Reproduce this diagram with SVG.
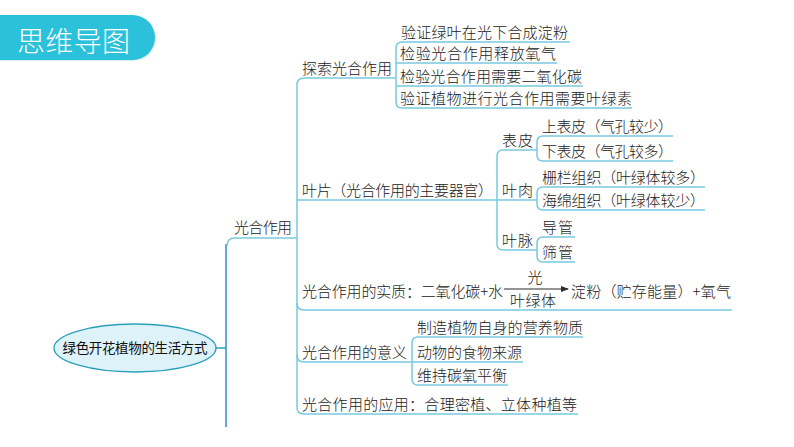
<svg xmlns="http://www.w3.org/2000/svg" width="794" height="447" viewBox="0 0 794 447">
<style>
.t{font-family:"Noto Sans CJK SC","Noto Sans CJK JP",sans-serif;font-size:15px;font-weight:300;fill:#222;}
.ln{fill:none;stroke:#78c9de;stroke-width:1.5;}
</style>
<defs>
<marker id="ah" markerWidth="8" markerHeight="6" refX="7" refY="3" orient="auto" markerUnits="userSpaceOnUse">
<path d="M0,0 L8,3 L0,6 Z" fill="#2a2a2a"/>
</marker>
</defs>
<rect width="794" height="447" fill="#ffffff"/>
<g id="title">
<path d="M0,16 H133.5 A22.5,22.5 0 0 1 133.5,61 H0 Z" fill="#d8eef3"/>
<path d="M0,15 H132.5 A22.5,22.5 0 0 1 132.5,60 H0 Z" fill="#2cc1da"/>
<text x="17" y="52" style="font-family:'Noto Sans CJK SC',sans-serif;font-size:28px;font-weight:300;fill:#ffffff" textLength="113">思维导图</text>
</g>
<g id="connectors">
<line x1="215" y1="348" x2="226" y2="348" stroke="#2aa0b8" stroke-width="1.5"/>
<line x1="226" y1="244" x2="226" y2="427" stroke="#2a8fc7" stroke-width="1.5"/>
<path class="ln" d="M227,246 Q227,238 235,238 H297"/>
<path class="ln" d="M396,78 H304 Q297,78 297,85 V407 Q297,414 304,414 H578"/>
<path class="ln" d="M297,200 H537"/>
<path class="ln" d="M297,303 Q297,310 304,310 H732"/>
<path class="ln" d="M297,355 Q297,362 304,362 H523"/>
<path class="ln" d="M570,42 H402 Q396,42 396,48 V102 Q396,108 402,108 H632"/>
<path class="ln" d="M396,63 H557"/>
<path class="ln" d="M396,86 H583"/>
<path class="ln" d="M537,150 H503 Q497,150 497,156 V244 Q497,250 503,250 H537"/>
<path class="ln" d="M673,136 H543 Q537,136 537,142 V155 Q537,161 543,161 H673"/>
<path class="ln" d="M705,187 H543 Q537,187 537,193 V204 Q537,210 543,210 H705"/>
<path class="ln" d="M575,237 H543 Q537,237 537,243 V256 Q537,262 543,262 H575"/>
<path class="ln" d="M583,337 H418 Q412,337 412,343 V379 Q412,385 418,385 H508"/>
</g>
<g id="root">
<ellipse cx="135" cy="348" rx="81" ry="24" fill="#def2fa" stroke="#2aa0b8" stroke-width="1.3"/>
<text x="135" y="353" text-anchor="middle" style="font-family:'Noto Sans CJK SC',sans-serif;font-size:13.5px;fill:#111" textLength="145">绿色开花植物的生活方式</text>
</g>
<g id="n-gh"><text class="t" x="234" y="233" textLength="58">光合作用</text></g>
<g id="n-ts"><text class="t" x="302" y="74" textLength="90">探索光合作用</text></g>
<g id="n-ts1"><text class="t" x="401" y="38" textLength="167">验证绿叶在光下合成淀粉</text></g>
<g id="n-ts2"><text class="t" x="400" y="59" textLength="156">检验光合作用释放氧气</text></g>
<g id="n-ts3"><text class="t" x="400" y="82" textLength="182">检验光合作用需要二氧化碳</text></g>
<g id="n-ts4"><text class="t" x="400" y="104" textLength="232">验证植物进行光合作用需要叶绿素</text></g>
<g id="n-yp"><text class="t" x="302" y="196" textLength="191">叶片（光合作用的主要器官）</text></g>
<g id="n-bp"><text class="t" x="502" y="146" textLength="31">表皮</text></g>
<g id="n-yr"><text class="t" x="502" y="196" textLength="31">叶肉</text></g>
<g id="n-ym"><text class="t" x="502" y="246" textLength="31">叶脉</text></g>
<g id="n-sbp"><text class="t" x="542" y="132" textLength="131">上表皮（气孔较少）</text></g>
<g id="n-xbp"><text class="t" x="542" y="157" textLength="131">下表皮（气孔较多）</text></g>
<g id="n-zl"><text class="t" x="542" y="183" textLength="163">栅栏组织（叶绿体较多）</text></g>
<g id="n-hm"><text class="t" x="542" y="206" textLength="163">海绵组织（叶绿体较少）</text></g>
<g id="n-dg"><text class="t" x="542" y="233" textLength="31">导管</text></g>
<g id="n-sg"><text class="t" x="542" y="258" textLength="31">筛管</text></g>
<g id="n-sz">
<text class="t" x="302" y="297" textLength="201">光合作用的实质：二氧化碳+水</text>
<line x1="504" y1="289" x2="568" y2="289" stroke="#2a2a2a" stroke-width="1.2" marker-end="url(#ah)"/>
<text class="t" x="535" y="283" text-anchor="middle">光</text>
<text class="t" x="533" y="306" text-anchor="middle" textLength="46">叶绿体</text>
<text class="t" x="571" y="297" textLength="160">淀粉（贮存能量）+氧气</text>
</g>
<g id="n-yy"><text class="t" x="302" y="358" textLength="105">光合作用的意义</text></g>
<g id="n-yy1"><text class="t" x="417" y="333" textLength="166">制造植物自身的营养物质</text></g>
<g id="n-yy2"><text class="t" x="417" y="358" textLength="105">动物的食物来源</text></g>
<g id="n-yy3"><text class="t" x="417" y="381" textLength="90">维持碳氧平衡</text></g>
<g id="n-yingy"><text class="t" x="302" y="410" textLength="275">光合作用的应用：合理密植、立体种植等</text></g>
</svg>
